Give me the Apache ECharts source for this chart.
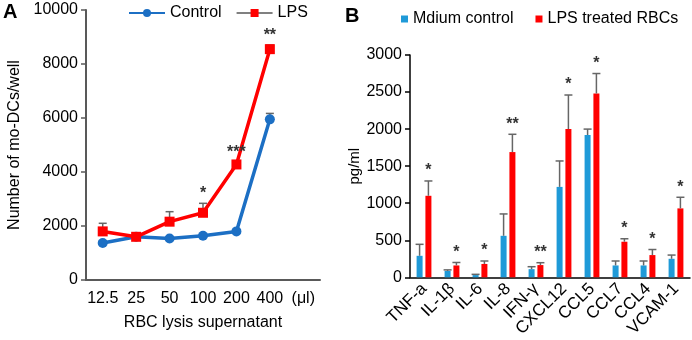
<!DOCTYPE html>
<html><head><meta charset="utf-8">
<script src="https://cdn.jsdelivr.net/npm/echarts@6/dist/echarts.min.js"></script>
<style>html,body{margin:0;padding:0;background:#fff}#c{width:692px;height:340px}</style>
</head><body><div id="c"></div>
<script>
// Panel A data
const doseLabels = ['12.5', '25', '50', '100', '200', '400', '(\u03bcl)'];
const controlVals = [1370, 1600, 1540, 1640, 1800, 5950, null];
const controlErr = [80, 40, 40, 40, 40, 220, null];
const lpsVals = [1800, 1600, 2160, 2490, 4280, 8550, null];
const lpsErr = [300, 40, 370, 350, 60, 150, null];
const starsA = ['', '', '', '*', '***', '**', ''];
const yTicksA = [0, 2000, 4000, 6000, 8000, 10000];

// Panel B data
const cytokines = ['TNF-a', 'IL-1\u03b2', 'IL-6', 'IL-8', 'IFN-\u03b3', 'CXCL12', 'CCL5', 'CCL7', 'CCL4', 'VCAM-1'];
const mediumVals = [290, 85, 30, 560, 110, 1220, 1920, 160, 160, 250];
const mediumErr = [155, 15, 10, 295, 33, 350, 80, 60, 60, 50];
const lpsRbcVals = [1100, 160, 180, 1690, 165, 2000, 2480, 480, 300, 930];
const lpsRbcErr = [200, 40, 40, 240, 32, 460, 270, 40, 75, 150];
const starsB = ['*', '*', '*', '**', '**', '*', '*', '*', '*', '*'];
const yTicksB = [0, 500, 1000, 1500, 2000, 2500, 3000];

const FONT = '"Liberation Sans", Arial, sans-serif';
const BLUE_A = '#1c6fc4', RED = '#ff0000', BLUE_B = '#1f9ad8', ERR = '#666666';
const BAR_W = 6, BAR_GAP = 0.47;

function errData(vals, errs) {
  return vals.map((v, i) => (v == null ? [i, null, null] : [i, v, errs[i]]));
}
function errRender(offset, capHalf) {
  return function (params, api) {
    const v = api.value(1), e = api.value(2);
    if (v == null || isNaN(v)) return null;
    const p0 = api.coord([api.value(0), v]);
    const p1 = api.coord([api.value(0), v + e]);
    const x = p0[0] + offset;
    return {
      type: 'group',
      children: [
        { type: 'line', shape: { x1: x, y1: p0[1], x2: x, y2: p1[1] }, style: { stroke: ERR, lineWidth: 1.5 } },
        { type: 'line', shape: { x1: x - capHalf, y1: p1[1], x2: x + capHalf, y2: p1[1] }, style: { stroke: ERR, lineWidth: 1.5 } }
      ]
    };
  };
}
function starData(vals, errs, stars) {
  return vals.map((v, i) => [i, v == null ? 0 : v + (errs[i] || 0), stars[i] || '']);
}
function stars_lookup(params) {
  const arr = params.seriesId === 'starsA' ? starsA : starsB;
  return arr[params.dataIndex];
}
function starRender(offset, gap, size) {
  return function (params, api) {
    const label = stars_lookup(params);
    if (!label) return null;
    const p = api.coord([api.value(0), api.value(1)]);
    return {
      type: 'text',
      style: { text: label, x: p[0] + offset, y: p[1] - gap, align: 'center', verticalAlign: 'middle',
               font: 'bold ' + size + 'px ' + FONT, fill: '#333' }
    };
  };
}

const halfOff = (BAR_W + BAR_W * BAR_GAP) / 2;
const plain = v => String(v);

const chart = echarts.init(document.getElementById('c'), null, { renderer: 'canvas' });
chart.setOption({
  animation: false,
  backgroundColor: '#fff',
  textStyle: { fontFamily: FONT },
  graphic: [
    { type: 'text', left: 3, top: 2, style: { text: 'A', font: 'bold 20px ' + FONT, fill: '#000' } },
    { type: 'text', left: 345, top: 6, style: { text: 'B', font: 'bold 20px ' + FONT, fill: '#000' } }
  ],
  legend: [
    {
      left: 123, top: 0, itemWidth: 36, itemHeight: 10, itemGap: 14,
      textStyle: { fontSize: 16, color: '#000', fontFamily: FONT },
      data: [{ name: 'Control' }, { name: 'LPS', lineStyle: { color: '#808080' } }]
    },
    {
      left: 396, top: 6, itemWidth: 7, itemHeight: 7, itemGap: 22, icon: 'rect',
      textStyle: { fontSize: 16, color: '#000', fontFamily: FONT },
      data: ['Mdium control', 'LPS treated RBCs']
    }
  ],
  grid: [
    { left: 86, top: 10, width: 234, height: 270 },
    { left: 410, top: 55, width: 280, height: 222.3 }
  ],
  xAxis: [
    {
      type: 'category', gridIndex: 0, data: doseLabels, boundaryGap: true,
      axisLine: { lineStyle: { color: '#595959', width: 2 } }, axisTick: { show: false },
      axisLabel: { fontSize: 16, color: '#000', margin: 11, interval: 0 },
      name: 'RBC lysis supernatant', nameLocation: 'middle', nameGap: 35,
      nameTextStyle: { fontSize: 16, color: '#000' }
    },
    {
      type: 'category', gridIndex: 1, data: cytokines, boundaryGap: true,
      axisLine: { lineStyle: { color: '#000', width: 1.5 } }, axisTick: { show: false },
      axisLabel: { fontSize: 17, color: '#000', rotate: 45, margin: 9, interval: 0 }
    }
  ],
  yAxis: [
    {
      type: 'value', gridIndex: 0, min: yTicksA[0], max: yTicksA[yTicksA.length - 1], interval: yTicksA[1] - yTicksA[0],
      axisLine: { show: true, lineStyle: { color: '#595959', width: 2 } },
      axisTick: { show: true, length: 5, lineStyle: { color: '#595959', width: 1.5 } },
      splitLine: { show: false },
      axisLabel: { fontSize: 16, color: '#000', margin: 8, formatter: plain },
      name: 'Number of mo-DCs/well', nameLocation: 'middle', nameGap: 63, nameRotate: 90,
      nameTextStyle: { fontSize: 16, color: '#000' }
    },
    {
      type: 'value', gridIndex: 1, min: yTicksB[0], max: yTicksB[yTicksB.length - 1], interval: yTicksB[1] - yTicksB[0],
      axisLine: { show: true, lineStyle: { color: '#000', width: 1.5 } },
      axisTick: { show: true, length: 5, lineStyle: { color: '#000', width: 1.5 } },
      splitLine: { show: false },
      axisLabel: { fontSize: 16, color: '#000', margin: 8, formatter: plain },
      name: 'pg/ml', nameLocation: 'middle', nameGap: 46, nameRotate: 90,
      nameTextStyle: { fontSize: 15, color: '#000' }
    }
  ],
  series: [
    { type: 'custom', xAxisIndex: 0, yAxisIndex: 0, z: 1, silent: true, encode: { x: 0, y: 1 },
      data: errData(controlVals, controlErr), renderItem: errRender(0, 4) },
    { type: 'custom', xAxisIndex: 0, yAxisIndex: 0, z: 1, silent: true, encode: { x: 0, y: 1 },
      data: errData(lpsVals, lpsErr), renderItem: errRender(0, 4) },
    { name: 'Control', type: 'line', xAxisIndex: 0, yAxisIndex: 0, z: 3, data: controlVals,
      symbol: 'circle', symbolSize: 10, lineStyle: { color: BLUE_A, width: 3.5 },
      itemStyle: { color: BLUE_A } },
    { name: 'LPS', type: 'line', xAxisIndex: 0, yAxisIndex: 0, z: 4, data: lpsVals,
      symbol: 'rect', symbolSize: 10, lineStyle: { color: RED, width: 3.5 },
      itemStyle: { color: RED } },
    { id: 'starsA', type: 'custom', xAxisIndex: 0, yAxisIndex: 0, z: 5, silent: true, encode: { x: 0, y: 1 },
      data: starData(lpsVals, lpsErr, starsA), renderItem: starRender(0, 10, 16) },
    { name: 'Mdium control', type: 'bar', xAxisIndex: 1, yAxisIndex: 1, data: mediumVals,
      barWidth: BAR_W, barGap: (BAR_GAP * 100) + '%', itemStyle: { color: BLUE_B } },
    { name: 'LPS treated RBCs', type: 'bar', xAxisIndex: 1, yAxisIndex: 1, data: lpsRbcVals,
      barWidth: BAR_W, barGap: (BAR_GAP * 100) + '%', itemStyle: { color: RED } },
    { type: 'custom', xAxisIndex: 1, yAxisIndex: 1, z: 3, silent: true, encode: { x: 0, y: 1 },
      data: errData(mediumVals, mediumErr), renderItem: errRender(-halfOff, 4) },
    { type: 'custom', xAxisIndex: 1, yAxisIndex: 1, z: 3, silent: true, encode: { x: 0, y: 1 },
      data: errData(lpsRbcVals, lpsRbcErr), renderItem: errRender(halfOff, 4) },
    { id: 'starsB', type: 'custom', xAxisIndex: 1, yAxisIndex: 1, z: 5, silent: true, encode: { x: 0, y: 1 },
      data: starData(lpsRbcVals, lpsRbcErr, starsB), renderItem: starRender(halfOff, 10, 16) }
  ]
});
</script></body></html>
